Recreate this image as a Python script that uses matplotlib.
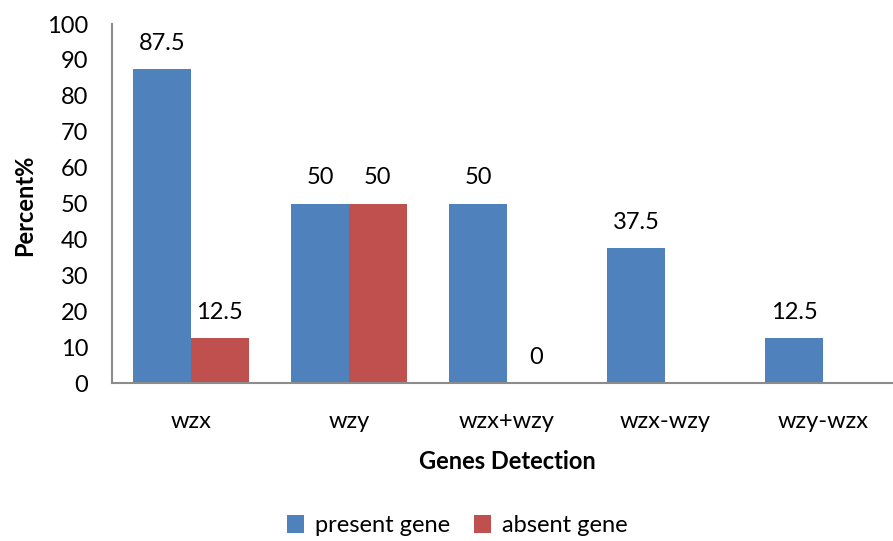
import numpy as np
import matplotlib.pyplot as plt

plt.rcParams['font.family'] = ['Lato', 'DejaVu Sans']

categories = ["wzx", "wzy", "wzx+wzy", "wzx-wzy", "wzy-wzx"]
present = [87.5, 50, 50, 37.5, 12.5]
absent = [12.5, 50, 0, np.nan, np.nan]

BLUE = "#4F81BD"
RED = "#C0504D"
W = 0.365
FS = 17

fig = plt.figure(figsize=(8.93, 5.41), dpi=100)
ax = fig.add_axes([0.1254, 0.292, 0.8847, 0.6636])

x = np.arange(len(categories))
b1 = ax.bar(x - W/2, present, W, color=BLUE, label="present gene")
b2 = ax.bar(x + W/2, absent, W, color=RED, label="absent gene")

for bars, vals in ((b1, present), (b2, absent)):
    for rect, v in zip(bars, vals):
        if np.isnan(v):
            continue
        ax.annotate(f"{v:g}", (rect.get_x() + rect.get_width()/2, v),
                    xytext=(0, 11), textcoords="offset points",
                    ha="center", va="bottom", fontsize=FS)

ax.set_xlim(-0.5, 4.5)
ax.set_ylim(0, 100)
ax.set_yticks(range(0, 101, 10))
ax.set_xticks(x)
ax.set_xticklabels(categories)
ax.tick_params(axis='both', length=0, labelsize=FS)
ax.tick_params(axis='x', pad=20)
ax.tick_params(axis='y', pad=17)
for s in ("top", "right"):
    ax.spines[s].set_visible(False)
for s in ("left", "bottom"):
    ax.spines[s].set_color("#8c8c8c")
    ax.spines[s].set_linewidth(1.5)

ax.set_xlabel("Genes Detection", fontsize=FS, fontweight="bold", labelpad=13)
fig.text(0.028, 0.62, "Percent%", rotation=90, ha="center", va="center",
         fontsize=FS, fontweight="bold")

fig.legend(loc="center", bbox_to_anchor=(0.512, 0.028), ncol=2, frameon=False,
           fontsize=FS, handlelength=0.75, handleheight=0.75, columnspacing=1.0,
           handletextpad=0.45)

plt.savefig("out.png", dpi=100)
